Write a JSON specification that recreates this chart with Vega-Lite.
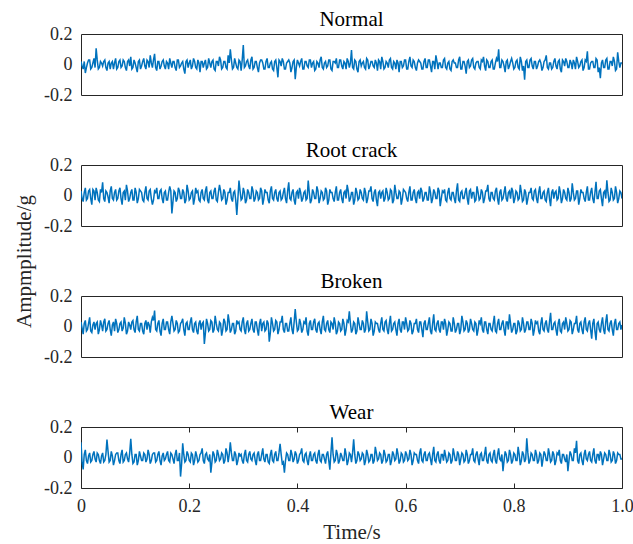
{
"$schema": "https://vega.github.io/schema/vega-lite/v6.json",
"background": "white",
"padding": {"left": 13, "top": 8, "right": 3, "bottom": 2},
"autosize": {"type": "pad"},
"bounds": "flush",
"spacing": 70,
"config": {
  "font": "Times New Roman, Liberation Serif, DejaVu Serif, serif",
  "view": {"stroke": "#262626", "strokeWidth": 1},
  "title": {"font": "Times New Roman, Liberation Serif, DejaVu Serif, serif", "fontSize": 21, "fontWeight": "normal", "color": "#000000", "offset": -5, "anchor": "middle"},
  "axis": {"labelFont": "Times New Roman, Liberation Serif, DejaVu Serif, serif", "titleFont": "Times New Roman, Liberation Serif, DejaVu Serif, serif", "labelFontSize": 18, "titleFontSize": 21, "titleFontWeight": "normal", "labelColor": "#262626", "titleColor": "#262626", "grid": false, "domain": false, "labelFlush": false, "labelOverlap": false, "tickColor": "#262626"},
  "line": {"color": "#0072BD", "strokeWidth": 1.5}
},
"data": {"values": [
{"t":0,"a":0.02,"b":0.03,"c":0.03,"d":0.1},{"t":2,"a":-0.01,"b":-0.02,"c":-0.01,"d":-0.03},
{"t":4,"a":-0.03,"b":-0.04,"c":-0.05,"d":-0.078},{"t":6,"a":0.02,"b":0.02,"c":0.02,"d":0.02},
{"t":8,"a":-0.056,"b":0.05,"c":0.04,"d":0.05},{"t":10,"a":-0.02,"b":-0.03,"c":-0.03,"d":-0.02},
{"t":12,"a":0.01,"b":-0.02,"c":-0.02,"d":-0.04},{"t":14,"a":0.03,"b":0.03,"c":0.02,"d":0.01},
{"t":16,"a":0.03,"b":0.04,"c":0.06,"d":0.03},{"t":18,"a":-0.03,"b":-0.02,"c":-0.03,"d":-0.03},
{"t":20,"a":-0.02,"b":-0.06,"c":-0.04,"d":-0.02},{"t":22,"a":0.01,"b":0.04,"c":0.01,"d":0.02},
{"t":24,"a":0.04,"b":0.03,"c":0.03,"d":0.04},{"t":26,"a":-0.02,"b":-0.03,"c":-0.02,"d":-0.01},
{"t":28,"a":0.106,"b":0.05,"c":0.02,"d":-0.03},{"t":30,"a":0.03,"b":0.02,"c":0.03,"d":0.03},
{"t":32,"a":-0.03,"b":-0.03,"c":-0.05,"d":0.02},{"t":34,"a":-0.02,"b":-0.04,"c":-0.02,"d":-0.02},
{"t":36,"a":0.02,"b":0.04,"c":0.04,"d":-0.04},{"t":38,"a":0.01,"b":0.02,"c":0.01,"d":0.01},
{"t":40,"a":-0.01,"b":0.087,"c":-0.03,"d":0.03},{"t":42,"a":0.02,"b":-0.02,"c":0.03,"d":-0.03},
{"t":44,"a":0.03,"b":-0.04,"c":0.05,"d":-0.02},{"t":46,"a":-0.02,"b":0.03,"c":-0.03,"d":0.02},
{"t":48,"a":-0.04,"b":0.02,"c":-0.02,"d":0.117},{"t":50,"a":0.01,"b":-0.01,"c":0.02,"d":0.04},
{"t":52,"a":0.02,"b":-0.05,"c":0.04,"d":-0.03},{"t":54,"a":-0.03,"b":0.03,"c":-0.02,"d":-0.02},
{"t":56,"a":0.01,"b":0.06,"c":-0.06,"d":0.04},{"t":58,"a":0.02,"b":-0.02,"c":0.01,"d":0.01},
{"t":60,"a":-0.03,"b":-0.03,"c":0.03,"d":-0.05},{"t":62,"a":0.01,"b":0.02,"c":-0.03,"d":-0.02},
{"t":64,"a":0.04,"b":0.04,"c":0.05,"d":0.02},{"t":66,"a":-0.03,"b":-0.03,"c":0.02,"d":0.03},
{"t":68,"a":-0.02,"b":-0.02,"c":-0.04,"d":0.03},{"t":70,"a":0.02,"b":0.03,"c":-0.02,"d":-0.02},
{"t":72,"a":0.03,"b":0.05,"c":0.02,"d":-0.04},{"t":74,"a":-0.02,"b":-0.02,"c":0.03,"d":0.02},
{"t":76,"a":-0.01,"b":-0.06,"c":-0.03,"d":0.05},{"t":78,"a":0.03,"b":0.02,"c":-0.01,"d":-0.03},
{"t":80,"a":0.02,"b":0.03,"c":0.06,"d":-0.02},{"t":82,"a":-0.02,"b":-0.03,"c":0.02,"d":0.02},
{"t":84,"a":-0.04,"b":0.07,"c":-0.05,"d":0.03},{"t":86,"a":0.02,"b":0.03,"c":-0.03,"d":-0.01},
{"t":88,"a":0.03,"b":-0.04,"c":0.03,"d":-0.03},{"t":90,"a":-0.01,"b":-0.02,"c":0.01,"d":0.03},
{"t":92,"a":0.05,"b":0.02,"c":-0.02,"d":0.123},{"t":94,"a":-0.03,"b":0.04,"c":0.03,"d":0.02},
{"t":96,"a":-0.02,"b":-0.03,"c":0.04,"d":-0.04},{"t":98,"a":0.03,"b":-0.03,"c":-0.02,"d":-0.03},
{"t":100,"a":0.01,"b":0.05,"c":-0.04,"d":0.02},{"t":102,"a":-0.02,"b":0.02,"c":0.03,"d":0.02},
{"t":104,"a":-0.05,"b":-0.05,"c":0.07,"d":-0.05},{"t":106,"a":0.02,"b":-0.02,"c":-0.02,"d":-0.02},
{"t":108,"a":0.03,"b":0.04,"c":-0.03,"d":0.04},{"t":110,"a":-0.03,"b":0.03,"c":0.02,"d":0.01},
{"t":112,"a":-0.01,"b":0.02,"c":0.02,"d":-0.02},{"t":114,"a":0.02,"b":-0.03,"c":-0.03,"d":-0.02},
{"t":116,"a":0.04,"b":-0.04,"c":-0.05,"d":0.03},{"t":118,"a":-0.01,"b":0.02,"c":0.02,"d":0.02},
{"t":120,"a":-0.03,"b":0.06,"c":0.04,"d":-0.03},{"t":122,"a":0.03,"b":-0.02,"c":-0.02,"d":-0.01},
{"t":124,"a":0.02,"b":-0.03,"c":0.03,"d":0.05},{"t":126,"a":-0.02,"b":0.03,"c":0.01,"d":0.02},
{"t":128,"a":0.06,"b":0.04,"c":-0.04,"d":-0.04},{"t":130,"a":0.01,"b":-0.02,"c":0.03,"d":-0.02},
{"t":132,"a":-0.02,"b":-0.06,"c":0.06,"d":0.02},{"t":134,"a":0.03,"b":-0.03,"c":0.04,"d":0.03},
{"t":136,"a":0.07,"b":0.03,"c":0.105,"d":0.03},{"t":138,"a":-0.02,"b":0.02,"c":-0.02,"d":-0.03},
{"t":140,"a":-0.04,"b":0.05,"c":-0.03,"d":-0.02},{"t":142,"a":0.02,"b":-0.02,"c":0.02,"d":0.02},
{"t":144,"a":0.02,"b":-0.02,"c":0.04,"d":0.04},{"t":146,"a":-0.03,"b":0.03,"c":-0.03,"d":-0.02},
{"t":148,"a":-0.01,"b":0.04,"c":-0.06,"d":-0.05},{"t":150,"a":0.02,"b":-0.02,"c":0.02,"d":0.01},
{"t":152,"a":0.03,"b":-0.05,"c":0.05,"d":0.03},{"t":154,"a":-0.01,"b":0.02,"c":-0.02,"d":-0.02},
{"t":156,"a":-0.03,"b":0.03,"c":-0.02,"d":-0.01},{"t":158,"a":0.02,"b":-0.03,"c":0.03,"d":0.02},
{"t":160,"a":0.01,"b":-0.03,"c":0.03,"d":0.04},{"t":162,"a":-0.03,"b":0.02,"c":-0.02,"d":-0.02},
{"t":164,"a":0.04,"b":0.06,"c":-0.05,"d":-0.03},{"t":166,"a":0.01,"b":0.03,"c":0.03,"d":0.03},
{"t":168,"a":-0.02,"b":-0.118,"c":0.07,"d":0.02},{"t":170,"a":0.02,"b":-0.04,"c":0.02,"d":-0.01},
{"t":172,"a":0.02,"b":0.03,"c":-0.03,"d":-0.04},{"t":174,"a":-0.02,"b":0.02,"c":-0.02,"d":0.02},
{"t":176,"a":-0.04,"b":-0.04,"c":0.04,"d":0.05},{"t":178,"a":0.03,"b":-0.02,"c":0.02,"d":-0.02},
{"t":180,"a":0.03,"b":0.05,"c":-0.04,"d":-0.02},{"t":182,"a":-0.02,"b":0.03,"c":-0.03,"d":0.03},
{"t":184,"a":-0.01,"b":-0.02,"c":0.02,"d":-0.125},{"t":186,"a":0.01,"b":-0.02,"c":0.03,"d":-0.04},
{"t":188,"a":0.02,"b":0.04,"c":0.05,"d":0.093},{"t":190,"a":-0.03,"b":0.02,"c":-0.02,"d":0.02},
{"t":192,"a":-0.06,"b":-0.05,"c":-0.06,"d":-0.03},{"t":194,"a":0.02,"b":-0.03,"c":0.02,"d":-0.02},
{"t":196,"a":0.03,"b":0.07,"c":0.03,"d":0.04},{"t":198,"a":-0.02,"b":0.03,"c":-0.02,"d":0.02},
{"t":200,"a":0.01,"b":-0.03,"c":-0.02,"d":-0.02},{"t":202,"a":0.03,"b":-0.02,"c":0.03,"d":-0.03},
{"t":204,"a":-0.03,"b":0.02,"c":0.06,"d":0.03},{"t":206,"a":-0.01,"b":0.03,"c":-0.02,"d":0.02},
{"t":208,"a":0.04,"b":-0.06,"c":-0.04,"d":-0.05},{"t":210,"a":0.02,"b":-0.02,"c":0.02,"d":-0.02},
{"t":212,"a":-0.02,"b":0.05,"c":0.03,"d":0.04},{"t":214,"a":-0.03,"b":0.02,"c":-0.03,"d":0.01},
{"t":216,"a":0.03,"b":0.03,"c":-0.05,"d":-0.03},{"t":218,"a":0.01,"b":-0.03,"c":0.02,"d":-0.02},
{"t":220,"a":-0.05,"b":-0.04,"c":0.04,"d":0.02},{"t":222,"a":0.02,"b":0.02,"c":-0.02,"d":0.03},
{"t":224,"a":0.02,"b":0.04,"c":0.02,"d":0.06},{"t":226,"a":-0.02,"b":-0.02,"c":0.03,"d":-0.02},
{"t":228,"a":0.01,"b":-0.03,"c":-0.115,"d":-0.04},{"t":230,"a":0.03,"b":0.03,"c":-0.04,"d":0.02},
{"t":232,"a":-0.03,"b":0.06,"c":0.05,"d":0.03},{"t":234,"a":-0.02,"b":-0.03,"c":0.02,"d":-0.01},
{"t":236,"a":0.04,"b":-0.05,"c":-0.03,"d":-0.02},{"t":238,"a":0.01,"b":0.02,"c":-0.02,"d":0.02},
{"t":240,"a":-0.02,"b":0.03,"c":0.04,"d":-0.1},{"t":242,"a":0.02,"b":-0.02,"c":0.03,"d":-0.03},
{"t":244,"a":0.03,"b":-0.02,"c":-0.04,"d":0.04},{"t":246,"a":-0.03,"b":0.03,"c":-0.02,"d":0.02},
{"t":248,"a":-0.04,"b":0.05,"c":0.07,"d":-0.03},{"t":250,"a":0.02,"b":-0.03,"c":0.02,"d":-0.02},
{"t":252,"a":0.02,"b":-0.04,"c":-0.02,"d":0.05},{"t":254,"a":-0.01,"b":0.02,"c":-0.03,"d":0.02},
{"t":256,"a":0.05,"b":0.07,"c":0.03,"d":-0.02},{"t":258,"a":0.03,"b":0.03,"c":0.02,"d":-0.01},
{"t":260,"a":-0.03,"b":-0.03,"c":-0.06,"d":0.03},{"t":262,"a":-0.02,"b":-0.02,"c":-0.02,"d":0.02},
{"t":264,"a":0.02,"b":0.04,"c":0.05,"d":-0.04},{"t":266,"a":0.02,"b":0.02,"c":0.03,"d":-0.02},
{"t":268,"a":-0.02,"b":-0.06,"c":-0.03,"d":0.06},{"t":270,"a":-0.03,"b":-0.03,"c":-0.02,"d":0.03},
{"t":272,"a":0.06,"b":0.02,"c":0.08,"d":-0.03},{"t":274,"a":0.01,"b":0.02,"c":0.03,"d":0.02},
{"t":276,"a":0.1,"b":0.05,"c":-0.04,"d":0.1},{"t":278,"a":0.03,"b":-0.02,"c":-0.02,"d":0.03},
{"t":280,"a":-0.03,"b":-0.04,"c":0.02,"d":-0.02},{"t":282,"a":-0.02,"b":0.02,"c":0.02,"d":-0.02},
{"t":284,"a":0.04,"b":0.03,"c":-0.05,"d":0.04},{"t":286,"a":0.01,"b":-0.03,"c":-0.03,"d":0.02},
{"t":288,"a":-0.02,"b":-0.127,"c":0.04,"d":-0.05},{"t":290,"a":-0.03,"b":-0.02,"c":0.02,"d":-0.02},
{"t":292,"a":0.03,"b":0.098,"c":0.03,"d":0.03},{"t":294,"a":0.02,"b":0.03,"c":-0.02,"d":0.01},
{"t":296,"a":-0.04,"b":-0.03,"c":-0.03,"d":0.02},{"t":298,"a":0.03,"b":-0.02,"c":0.03,"d":-0.02},
{"t":300,"a":0.128,"b":0.05,"c":0.06,"d":-0.04},{"t":302,"a":-0.02,"b":0.02,"c":-0.02,"d":0.02},
{"t":304,"a":-0.01,"b":-0.05,"c":-0.05,"d":0.05},{"t":306,"a":0.02,"b":-0.03,"c":0.02,"d":-0.02},
{"t":308,"a":0.03,"b":0.04,"c":0.04,"d":-0.03},{"t":310,"a":-0.01,"b":0.02,"c":-0.03,"d":0.02},
{"t":312,"a":-0.03,"b":-0.02,"c":-0.02,"d":0.04},{"t":314,"a":0.03,"b":-0.02,"c":0.02,"d":-0.01},
{"t":316,"a":0.05,"b":0.06,"c":0.05,"d":-0.02},{"t":318,"a":-0.03,"b":0.03,"c":-0.02,"d":0.02},
{"t":320,"a":-0.02,"b":-0.04,"c":-0.04,"d":0.03},{"t":322,"a":0.02,"b":-0.02,"c":0.03,"d":-0.02},
{"t":324,"a":0.02,"b":0.03,"c":0.03,"d":-0.05},{"t":326,"a":-0.02,"b":0.02,"c":-0.02,"d":0.02},
{"t":328,"a":-0.05,"b":-0.03,"c":-0.06,"d":0.04},{"t":330,"a":0.01,"b":-0.02,"c":0.02,"d":-0.02},
{"t":332,"a":0.03,"b":0.05,"c":0.05,"d":-0.02},{"t":334,"a":0.03,"b":0.03,"c":-0.03,"d":0.02},
{"t":336,"a":0.01,"b":-0.06,"c":0.02,"d":0.06},{"t":338,"a":-0.03,"b":-0.02,"c":0.03,"d":-0.01},
{"t":340,"a":-0.03,"b":0.04,"c":-0.03,"d":-0.03},{"t":342,"a":0.02,"b":0.02,"c":-0.02,"d":0.02},
{"t":344,"a":0.04,"b":0.02,"c":0.04,"d":0.02},{"t":346,"a":-0.02,"b":-0.03,"c":0.02,"d":-0.03},
{"t":348,"a":-0.02,"b":-0.05,"c":-0.1,"d":-0.04},{"t":350,"a":0.01,"b":0.03,"c":-0.04,"d":0.02},
{"t":352,"a":0.02,"b":0.06,"c":0.06,"d":0.05},{"t":354,"a":-0.03,"b":-0.02,"c":0.02,"d":-0.02},
{"t":356,"a":-0.04,"b":-0.03,"c":-0.03,"d":-0.03},{"t":358,"a":0.02,"b":0.02,"c":-0.02,"d":0.02},
{"t":360,"a":0.03,"b":0.04,"c":0.04,"d":0.04},{"t":362,"a":-0.02,"b":-0.02,"c":0.03,"d":-0.02},
{"t":364,"a":-0.084,"b":-0.04,"c":-0.05,"d":-0.02},{"t":366,"a":0.03,"b":0.02,"c":-0.02,"d":0.03},
{"t":368,"a":0.02,"b":0.03,"c":0.03,"d":0.09},{"t":370,"a":-0.01,"b":-0.03,"c":0.03,"d":0.02},
{"t":372,"a":0.04,"b":-0.02,"c":0.07,"d":-0.04},{"t":374,"a":0.02,"b":0.02,"c":-0.02,"d":-0.03},
{"t":376,"a":-0.03,"b":0.05,"c":-0.04,"d":-0.1},{"t":378,"a":-0.03,"b":-0.02,"c":0.02,"d":-0.02},
{"t":380,"a":0.01,"b":-0.05,"c":0.02,"d":0.03},{"t":382,"a":0.02,"b":0.03,"c":-0.03,"d":0.02},
{"t":384,"a":0.03,"b":0.087,"c":-0.03,"d":-0.02},{"t":386,"a":0.01,"b":-0.02,"c":0.02,"d":-0.02},
{"t":388,"a":-0.05,"b":-0.03,"c":0.06,"d":0.05},{"t":390,"a":-0.02,"b":0.02,"c":-0.02,"d":0.02},
{"t":392,"a":0.02,"b":0.04,"c":-0.05,"d":-0.03},{"t":394,"a":0.03,"b":-0.03,"c":0.03,"d":-0.01},
{"t":396,"a":-0.097,"b":-0.06,"c":0.114,"d":0.04},{"t":398,"a":-0.02,"b":0.02,"c":0.03,"d":0.02},
{"t":400,"a":0.03,"b":0.03,"c":-0.03,"d":-0.04},{"t":402,"a":0.01,"b":-0.02,"c":-0.02,"d":-0.02},
{"t":404,"a":-0.01,"b":0.05,"c":0.05,"d":0.02},{"t":406,"a":0.02,"b":0.02,"c":0.02,"d":0.03},
{"t":408,"a":0.04,"b":-0.04,"c":-0.04,"d":0.06},{"t":410,"a":-0.03,"b":-0.02,"c":-0.02,"d":-0.02},
{"t":412,"a":-0.03,"b":0.02,"c":0.03,"d":-0.03},{"t":414,"a":0.02,"b":0.03,"c":0.02,"d":0.02},
{"t":416,"a":0.02,"b":-0.03,"c":0.06,"d":0.03},{"t":418,"a":-0.01,"b":-0.02,"c":-0.03,"d":-0.02},
{"t":420,"a":-0.02,"b":0.098,"c":-0.06,"d":-0.05},{"t":422,"a":0.03,"b":0.02,"c":0.02,"d":0.01},
{"t":424,"a":0.03,"b":-0.05,"c":0.04,"d":0.04},{"t":426,"a":-0.02,"b":-0.03,"c":-0.02,"d":-0.02},
{"t":428,"a":0.01,"b":0.04,"c":-0.02,"d":-0.02},{"t":430,"a":0.02,"b":0.02,"c":0.03,"d":0.02},
{"t":432,"a":-0.04,"b":-0.02,"c":0.05,"d":0.03},{"t":434,"a":-0.03,"b":-0.02,"c":-0.02,"d":-0.02},
{"t":436,"a":0.02,"b":0.06,"c":-0.04,"d":-0.04},{"t":438,"a":0.01,"b":0.03,"c":0.02,"d":0.02},
{"t":440,"a":-0.02,"b":-0.05,"c":0.03,"d":0.05},{"t":442,"a":0.03,"b":-0.02,"c":-0.02,"d":-0.02},
{"t":444,"a":0.05,"b":0.03,"c":-0.05,"d":-0.03},{"t":446,"a":-0.02,"b":0.02,"c":0.03,"d":0.02},
{"t":448,"a":-0.03,"b":-0.03,"c":0.07,"d":0.02},{"t":450,"a":0.01,"b":-0.02,"c":-0.02,"d":-0.01},
{"t":452,"a":0.02,"b":0.05,"c":-0.03,"d":-0.04},{"t":454,"a":-0.02,"b":0.03,"c":0.02,"d":0.02},
{"t":456,"a":-0.01,"b":-0.06,"c":0.04,"d":0.04},{"t":458,"a":0.03,"b":-0.03,"c":-0.02,"d":-0.02},
{"t":460,"a":0.03,"b":0.04,"c":-0.04,"d":-0.08},{"t":462,"a":-0.03,"b":0.02,"c":0.03,"d":0.03},
{"t":464,"a":-0.04,"b":0.02,"c":0.02,"d":0.133},{"t":466,"a":0.02,"b":-0.02,"c":-0.02,"d":0.02},
{"t":468,"a":0.02,"b":-0.04,"c":0.06,"d":-0.03},{"t":470,"a":0.01,"b":0.02,"c":0.02,"d":-0.02},
{"t":472,"a":0.04,"b":0.06,"c":-0.05,"d":0.05},{"t":474,"a":-0.02,"b":-0.03,"c":-0.03,"d":0.02},
{"t":476,"a":-0.02,"b":-0.03,"c":0.03,"d":-0.04},{"t":478,"a":0.03,"b":0.02,"c":0.02,"d":-0.02},
{"t":480,"a":0.03,"b":0.04,"c":-0.03,"d":0.03},{"t":482,"a":-0.01,"b":-0.02,"c":-0.02,"d":0.01},
{"t":484,"a":-0.03,"b":-0.05,"c":0.05,"d":-0.02},{"t":486,"a":0.02,"b":0.02,"c":0.02,"d":-0.02},
{"t":488,"a":0.01,"b":0.03,"c":-0.06,"d":0.06},{"t":490,"a":-0.03,"b":-0.02,"c":-0.02,"d":0.02},
{"t":492,"a":0.04,"b":0.07,"c":0.04,"d":-0.05},{"t":494,"a":0.02,"b":0.03,"c":0.03,"d":-0.02},
{"t":496,"a":-0.02,"b":-0.04,"c":0.1,"d":0.03},{"t":498,"a":0.01,"b":-0.02,"c":0.02,"d":0.02},
{"t":500,"a":0.095,"b":0.02,"c":-0.04,"d":-0.03},{"t":502,"a":-0.02,"b":0.02,"c":-0.02,"d":0.03},
{"t":504,"a":-0.03,"b":-0.06,"c":0.03,"d":0.12},{"t":506,"a":0.03,"b":-0.03,"c":0.02,"d":0.02},
{"t":508,"a":0.02,"b":0.05,"c":-0.05,"d":-0.04},{"t":510,"a":-0.03,"b":0.02,"c":-0.03,"d":-0.02},
{"t":512,"a":-0.05,"b":-0.03,"c":0.06,"d":0.04},{"t":514,"a":0.02,"b":-0.02,"c":0.02,"d":0.02},
{"t":516,"a":0.03,"b":0.04,"c":-0.02,"d":-0.02},{"t":518,"a":-0.01,"b":0.02,"c":-0.02,"d":-0.01},
{"t":520,"a":0.01,"b":-0.02,"c":0.04,"d":0.03},{"t":522,"a":0.02,"b":-0.03,"c":0.02,"d":0.02},
{"t":524,"a":-0.02,"b":0.05,"c":-0.04,"d":-0.05},{"t":526,"a":-0.03,"b":0.02,"c":-0.02,"d":-0.02},
{"t":528,"a":0.04,"b":-0.05,"c":0.1,"d":0.05},{"t":530,"a":0.03,"b":-0.02,"c":0.03,"d":0.02},
{"t":532,"a":-0.03,"b":0.03,"c":-0.03,"d":-0.03},{"t":534,"a":-0.01,"b":0.03,"c":-0.02,"d":-0.02},
{"t":536,"a":0.02,"b":0.06,"c":0.05,"d":0.02},{"t":538,"a":0.02,"b":-0.02,"c":0.02,"d":0.02},
{"t":540,"a":-0.01,"b":-0.04,"c":-0.06,"d":-0.04},{"t":542,"a":-0.02,"b":0.02,"c":-0.03,"d":-0.02},
{"t":544,"a":0.03,"b":0.04,"c":0.03,"d":0.07},{"t":546,"a":0.01,"b":-0.03,"c":0.02,"d":0.03},
{"t":548,"a":-0.04,"b":-0.07,"c":0.02,"d":-0.02},{"t":550,"a":0.03,"b":0.02,"c":-0.02,"d":-0.01},
{"t":552,"a":0.02,"b":0.03,"c":-0.04,"d":0.03},{"t":554,"a":-0.03,"b":-0.02,"c":0.02,"d":0.02},
{"t":556,"a":0.05,"b":0.02,"c":0.06,"d":-0.04},{"t":558,"a":0.02,"b":0.03,"c":-0.02,"d":-0.02},
{"t":560,"a":-0.03,"b":-0.04,"c":-0.03,"d":0.05},{"t":562,"a":-0.02,"b":-0.02,"c":0.03,"d":0.02},
{"t":564,"a":0.02,"b":0.05,"c":0.04,"d":-0.03},{"t":566,"a":0.01,"b":0.02,"c":-0.02,"d":-0.02},
{"t":568,"a":-0.02,"b":-0.03,"c":-0.05,"d":0.02},{"t":570,"a":0.03,"b":-0.02,"c":0.02,"d":0.02},
{"t":572,"a":0.04,"b":0.04,"c":0.07,"d":-0.05},{"t":574,"a":-0.02,"b":0.03,"c":-0.03,"d":-0.02},
{"t":576,"a":-0.03,"b":-0.05,"c":-0.02,"d":0.04},{"t":578,"a":0.02,"b":-0.03,"c":0.02,"d":0.02},
{"t":580,"a":0.01,"b":0.07,"c":0.03,"d":-0.02},{"t":582,"a":-0.03,"b":0.02,"c":-0.02,"d":-0.01},
{"t":584,"a":0.03,"b":-0.02,"c":-0.06,"d":0.06},{"t":586,"a":0.01,"b":-0.02,"c":0.02,"d":0.02},
{"t":588,"a":-0.05,"b":0.03,"c":0.05,"d":-0.04},{"t":590,"a":0.02,"b":0.02,"c":-0.02,"d":-0.02},
{"t":592,"a":0.02,"b":-0.06,"c":-0.04,"d":0.03},{"t":594,"a":-0.02,"b":-0.02,"c":0.03,"d":0.02},
{"t":596,"a":-0.01,"b":0.04,"c":0.03,"d":-0.03},{"t":598,"a":0.03,"b":0.03,"c":-0.02,"d":-0.02},
{"t":600,"a":0.03,"b":0.02,"c":0.06,"d":0.04},{"t":602,"a":-0.03,"b":-0.02,"c":0.02,"d":0.02},
{"t":604,"a":-0.03,"b":-0.04,"c":-0.03,"d":-0.02},{"t":606,"a":0.02,"b":0.02,"c":-0.02,"d":-0.01},
{"t":608,"a":0.05,"b":0.06,"c":0.04,"d":0.05},{"t":610,"a":-0.01,"b":-0.03,"c":0.02,"d":0.02},
{"t":612,"a":-0.02,"b":-0.03,"c":-0.05,"d":-0.05},{"t":614,"a":0.03,"b":0.02,"c":-0.03,"d":-0.02},
{"t":616,"a":0.02,"b":0.04,"c":0.02,"d":0.03},{"t":618,"a":-0.02,"b":-0.02,"c":0.02,"d":0.02},
{"t":620,"a":-0.04,"b":-0.05,"c":0.05,"d":0.02},{"t":622,"a":0.01,"b":0.02,"c":-0.02,"d":-0.02},
{"t":624,"a":0.03,"b":0.03,"c":-0.04,"d":-0.04},{"t":626,"a":0.02,"b":-0.02,"c":0.03,"d":0.03},
{"t":628,"a":0.01,"b":0.05,"c":0.03,"d":0.06},{"t":630,"a":-0.03,"b":0.03,"c":-0.02,"d":-0.02},
{"t":632,"a":-0.03,"b":-0.04,"c":-0.07,"d":-0.03},{"t":634,"a":0.02,"b":-0.02,"c":0.02,"d":0.02},
{"t":636,"a":0.04,"b":0.02,"c":0.04,"d":0.04},{"t":638,"a":-0.02,"b":0.02,"c":-0.02,"d":-0.02},
{"t":640,"a":-0.02,"b":-0.03,"c":-0.02,"d":-0.02},{"t":642,"a":0.03,"b":-0.03,"c":0.02,"d":0.02},
{"t":644,"a":0.03,"b":0.06,"c":0.06,"d":0.03},{"t":646,"a":-0.01,"b":0.02,"c":-0.03,"d":-0.01},
{"t":648,"a":-0.05,"b":-0.05,"c":-0.05,"d":-0.05},{"t":650,"a":0.02,"b":-0.02,"c":0.02,"d":0.02},
{"t":652,"a":0.02,"b":0.04,"c":0.08,"d":0.07},{"t":654,"a":-0.03,"b":0.02,"c":-0.02,"d":-0.02},
{"t":656,"a":0.06,"b":-0.02,"c":-0.03,"d":-0.03},{"t":658,"a":0.02,"b":-0.02,"c":0.02,"d":0.02},
{"t":660,"a":-0.03,"b":0.05,"c":0.04,"d":0.04},{"t":662,"a":0.01,"b":0.03,"c":-0.02,"d":-0.02},
{"t":664,"a":0.01,"b":-0.07,"c":-0.04,"d":-0.04},{"t":666,"a":-0.02,"b":-0.02,"c":0.03,"d":0.02},
{"t":668,"a":-0.02,"b":0.03,"c":0.03,"d":0.02},{"t":670,"a":0.03,"b":0.02,"c":-0.02,"d":-0.02},
{"t":672,"a":0.04,"b":0.04,"c":0.05,"d":0.05},{"t":674,"a":-0.02,"b":-0.03,"c":0.02,"d":0.01},
{"t":676,"a":-0.03,"b":-0.04,"c":-0.06,"d":-0.03},{"t":678,"a":0.01,"b":0.02,"c":-0.02,"d":-0.02},
{"t":680,"a":0.02,"b":0.05,"c":0.03,"d":0.03},{"t":682,"a":-0.03,"b":-0.02,"c":0.02,"d":0.02},
{"t":684,"a":-0.04,"b":-0.03,"c":-0.03,"d":-0.04},{"t":686,"a":0.02,"b":0.02,"c":-0.03,"d":-0.02},
{"t":688,"a":0.03,"b":0.02,"c":0.06,"d":0.06},{"t":690,"a":0.01,"b":-0.02,"c":0.02,"d":0.02},
{"t":692,"a":0.01,"b":-0.05,"c":-0.04,"d":-0.02},{"t":694,"a":-0.02,"b":0.03,"c":-0.02,"d":-0.02},
{"t":696,"a":-0.02,"b":0.08,"c":0.02,"d":0.04},{"t":698,"a":0.03,"b":-0.03,"c":0.02,"d":0.02},
{"t":700,"a":0.05,"b":-0.04,"c":-0.05,"d":-0.05},{"t":702,"a":-0.03,"b":0.02,"c":-0.02,"d":-0.01},
{"t":704,"a":-0.03,"b":0.03,"c":0.07,"d":0.03},{"t":706,"a":0.02,"b":-0.02,"c":0.03,"d":0.02},
{"t":708,"a":0.02,"b":-0.02,"c":-0.03,"d":-0.03},{"t":710,"a":-0.01,"b":0.02,"c":-0.02,"d":-0.02},
{"t":712,"a":-0.06,"b":0.05,"c":0.04,"d":0.05},{"t":714,"a":0.02,"b":-0.02,"c":0.02,"d":0.02},
{"t":716,"a":0.03,"b":-0.06,"c":-0.04,"d":-0.04},{"t":718,"a":-0.02,"b":0.03,"c":-0.02,"d":-0.02},
{"t":720,"a":-0.01,"b":0.04,"c":0.05,"d":0.02},{"t":722,"a":0.03,"b":-0.02,"c":0.02,"d":0.02},
{"t":724,"a":0.04,"b":0.02,"c":-0.02,"d":0.06},{"t":726,"a":-0.02,"b":0.02,"c":-0.03,"d":-0.02},
{"t":728,"a":-0.03,"b":-0.04,"c":0.03,"d":-0.03},{"t":730,"a":0.01,"b":-0.03,"c":0.02,"d":0.02},
{"t":732,"a":0.02,"b":0.06,"c":-0.06,"d":0.04},{"t":734,"a":0.02,"b":0.02,"c":-0.02,"d":-0.01},
{"t":736,"a":-0.02,"b":-0.03,"c":0.04,"d":-0.05},{"t":738,"a":-0.03,"b":-0.02,"c":0.02,"d":0.02},
{"t":740,"a":0.03,"b":0.04,"c":0.06,"d":0.03},{"t":742,"a":0.02,"b":0.02,"c":-0.02,"d":-0.02},
{"t":744,"a":0.05,"b":-0.05,"c":-0.04,"d":-0.02},{"t":746,"a":-0.01,"b":-0.02,"c":0.03,"d":0.02},
{"t":748,"a":-0.04,"b":0.03,"c":0.03,"d":0.07},{"t":750,"a":0.03,"b":0.03,"c":-0.02,"d":-0.02},
{"t":752,"a":0.02,"b":0.07,"c":-0.05,"d":-0.04},{"t":754,"a":-0.02,"b":-0.02,"c":0.02,"d":0.02},
{"t":756,"a":-0.02,"b":-0.04,"c":0.02,"d":0.03},{"t":758,"a":0.02,"b":0.02,"c":-0.02,"d":-0.02},
{"t":760,"a":0.03,"b":0.02,"c":-0.03,"d":-0.03},{"t":762,"a":-0.03,"b":-0.02,"c":0.02,"d":0.02},
{"t":764,"a":-0.03,"b":-0.03,"c":0.07,"d":0.05},{"t":766,"a":0.01,"b":0.03,"c":-0.03,"d":-0.02},
{"t":768,"a":0.04,"b":0.05,"c":-0.04,"d":-0.04},{"t":770,"a":0.02,"b":-0.02,"c":0.02,"d":0.02},
{"t":772,"a":0.1,"b":-0.06,"c":0.05,"d":0.06},{"t":774,"a":-0.02,"b":0.02,"c":-0.02,"d":-0.01},
{"t":776,"a":-0.02,"b":0.04,"c":-0.02,"d":-0.02},{"t":778,"a":0.03,"b":-0.03,"c":0.02,"d":0.02},
{"t":780,"a":0.02,"b":-0.02,"c":0.04,"d":-0.09},{"t":782,"a":-0.01,"b":0.02,"c":-0.02,"d":-0.02},
{"t":784,"a":-0.05,"b":0.06,"c":-0.06,"d":0.04},{"t":786,"a":0.02,"b":-0.02,"c":0.03,"d":0.02},
{"t":788,"a":0.03,"b":-0.04,"c":0.03,"d":-0.03},{"t":790,"a":-0.03,"b":0.02,"c":-0.02,"d":-0.02},
{"t":792,"a":-0.01,"b":0.03,"c":0.08,"d":0.05},{"t":794,"a":0.02,"b":-0.02,"c":0.02,"d":0.02},
{"t":796,"a":0.04,"b":0.05,"c":-0.04,"d":-0.04},{"t":798,"a":0.01,"b":0.03,"c":-0.02,"d":-0.02},
{"t":800,"a":-0.03,"b":-0.05,"c":0.02,"d":0.03},{"t":802,"a":-0.02,"b":-0.02,"c":0.02,"d":0.02},
{"t":804,"a":0.02,"b":0.03,"c":-0.05,"d":-0.02},{"t":806,"a":0.03,"b":0.02,"c":-0.03,"d":-0.02},
{"t":808,"a":-0.02,"b":-0.03,"c":0.04,"d":0.07},{"t":810,"a":-0.03,"b":-0.02,"c":0.02,"d":0.02},
{"t":812,"a":0.05,"b":0.07,"c":-0.03,"d":-0.05},{"t":814,"a":0.02,"b":0.02,"c":-0.02,"d":-0.02},
{"t":816,"a":-0.04,"b":-0.04,"c":0.06,"d":0.04},{"t":818,"a":-0.01,"b":-0.03,"c":0.02,"d":0.02},
{"t":820,"a":-0.1,"b":0.04,"c":-0.04,"d":-0.03},{"t":822,"a":0.02,"b":0.02,"c":-0.02,"d":-0.01},
{"t":824,"a":0.03,"b":-0.06,"c":0.03,"d":0.126},{"t":826,"a":-0.02,"b":-0.02,"c":0.03,"d":0.03},
{"t":828,"a":-0.02,"b":0.02,"c":-0.02,"d":-0.04},{"t":830,"a":0.03,"b":0.02,"c":-0.02,"d":-0.02},
{"t":832,"a":0.04,"b":0.05,"c":0.05,"d":0.03},{"t":834,"a":-0.01,"b":-0.02,"c":0.02,"d":0.02},
{"t":836,"a":-0.03,"b":-0.03,"c":-0.06,"d":-0.02},{"t":838,"a":0.02,"b":0.03,"c":-0.02,"d":-0.02},
{"t":840,"a":0.02,"b":0.04,"c":0.04,"d":0.05},{"t":842,"a":-0.03,"b":-0.02,"c":0.02,"d":0.02},
{"t":844,"a":-0.01,"b":-0.05,"c":0.03,"d":-0.04},{"t":846,"a":0.02,"b":0.02,"c":-0.03,"d":-0.02},
{"t":848,"a":0.03,"b":0.06,"c":-0.05,"d":0.03},{"t":850,"a":0.01,"b":-0.02,"c":0.02,"d":0.02},
{"t":852,"a":-0.04,"b":-0.02,"c":0.06,"d":-0.06},{"t":854,"a":-0.02,"b":0.02,"c":-0.02,"d":-0.01},
{"t":856,"a":0.02,"b":0.03,"c":-0.03,"d":0.04},{"t":858,"a":0.03,"b":-0.03,"c":0.02,"d":0.02},
{"t":860,"a":0.06,"b":-0.04,"c":0.04,"d":-0.02},{"t":862,"a":-0.02,"b":0.02,"c":-0.02,"d":-0.02},
{"t":864,"a":-0.03,"b":0.05,"c":-0.04,"d":0.06},{"t":866,"a":0.01,"b":-0.02,"c":0.03,"d":0.02},
{"t":868,"a":0.01,"b":-0.07,"c":0.09,"d":-0.03},{"t":870,"a":-0.03,"b":0.02,"c":-0.02,"d":-0.02},
{"t":872,"a":-0.02,"b":0.04,"c":-0.02,"d":0.04},{"t":874,"a":0.02,"b":-0.02,"c":0.02,"d":0.02},
{"t":876,"a":0.04,"b":0.02,"c":0.03,"d":-0.05},{"t":878,"a":-0.01,"b":0.03,"c":-0.02,"d":-0.02},
{"t":880,"a":-0.03,"b":-0.03,"c":-0.06,"d":0.03},{"t":882,"a":0.02,"b":-0.02,"c":0.02,"d":0.02},
{"t":884,"a":0.03,"b":0.06,"c":0.05,"d":0.05},{"t":886,"a":-0.03,"b":0.02,"c":-0.03,"d":-0.02},
{"t":888,"a":-0.05,"b":-0.05,"c":-0.04,"d":-0.04},{"t":890,"a":0.03,"b":-0.02,"c":0.02,"d":0.02},
{"t":892,"a":0.02,"b":0.04,"c":0.03,"d":0.02},{"t":894,"a":-0.01,"b":0.02,"c":-0.02,"d":-0.01},
{"t":896,"a":0.04,"b":-0.02,"c":0.06,"d":-0.03},{"t":898,"a":0.02,"b":-0.03,"c":0.02,"d":0.02},
{"t":900,"a":-0.02,"b":0.05,"c":-0.03,"d":-0.09},{"t":902,"a":-0.02,"b":0.02,"c":-0.02,"d":-0.02},
{"t":904,"a":0.03,"b":-0.04,"c":0.04,"d":0.04},{"t":906,"a":0.01,"b":-0.02,"c":0.03,"d":0.02},
{"t":908,"a":-0.03,"b":0.08,"c":-0.05,"d":-0.02},{"t":910,"a":0.03,"b":0.02,"c":-0.02,"d":-0.02},
{"t":912,"a":0.01,"b":-0.03,"c":0.02,"d":0.06},{"t":914,"a":-0.03,"b":-0.02,"c":0.02,"d":0.03},
{"t":916,"a":0.05,"b":0.03,"c":0.07,"d":0.11},{"t":918,"a":0.02,"b":0.03,"c":-0.02,"d":-0.02},
{"t":920,"a":-0.02,"b":-0.06,"c":-0.04,"d":-0.04},{"t":922,"a":-0.01,"b":-0.02,"c":0.02,"d":0.02},
{"t":924,"a":0.02,"b":0.04,"c":0.03,"d":0.03},{"t":926,"a":0.03,"b":0.02,"c":-0.02,"d":-0.02},
{"t":928,"a":-0.04,"b":0.02,"c":-0.05,"d":-0.05},{"t":930,"a":-0.02,"b":-0.02,"c":0.03,"d":0.02},
{"t":932,"a":0.03,"b":-0.04,"c":0.06,"d":0.05},{"t":934,"a":0.02,"b":0.02,"c":-0.02,"d":-0.01},
{"t":936,"a":0.086,"b":0.06,"c":-0.03,"d":-0.02},{"t":938,"a":-0.03,"b":-0.03,"c":0.02,"d":0.02},
{"t":940,"a":-0.03,"b":-0.03,"c":0.04,"d":0.04},{"t":942,"a":0.01,"b":0.02,"c":-0.02,"d":-0.02},
{"t":944,"a":0.02,"b":0.05,"c":-0.08,"d":-0.03},{"t":946,"a":0.02,"b":-0.02,"c":0.02,"d":0.02},
{"t":948,"a":-0.02,"b":-0.05,"c":0.05,"d":0.06},{"t":950,"a":-0.02,"b":0.02,"c":-0.03,"d":-0.02},
{"t":952,"a":0.04,"b":0.09,"c":-0.09,"d":-0.04},{"t":954,"a":0.03,"b":-0.02,"c":0.02,"d":0.02},
{"t":956,"a":-0.05,"b":-0.02,"c":0.03,"d":0.02},{"t":958,"a":-0.02,"b":0.03,"c":-0.02,"d":-0.02},
{"t":960,"a":-0.09,"b":0.04,"c":-0.04,"d":0.04},{"t":962,"a":0.01,"b":-0.02,"c":0.02,"d":0.02},
{"t":964,"a":0.03,"b":-0.07,"c":0.06,"d":-0.05},{"t":966,"a":-0.02,"b":0.02,"c":-0.02,"d":-0.01},
{"t":968,"a":-0.02,"b":0.03,"c":-0.05,"d":0.03},{"t":970,"a":0.03,"b":-0.02,"c":0.03,"d":0.02},
{"t":972,"a":0.04,"b":0.1,"c":0.08,"d":-0.02},{"t":974,"a":-0.03,"b":0.02,"c":-0.02,"d":-0.02},
{"t":976,"a":-0.03,"b":-0.04,"c":-0.03,"d":0.05},{"t":978,"a":0.02,"b":-0.03,"c":0.02,"d":0.02},
{"t":980,"a":0.02,"b":0.05,"c":0.04,"d":-0.03},{"t":982,"a":-0.01,"b":0.02,"c":-0.02,"d":-0.02},
{"t":984,"a":0.05,"b":-0.03,"c":-0.06,"d":0.04},{"t":986,"a":0.02,"b":-0.02,"c":0.02,"d":0.02},
{"t":988,"a":-0.04,"b":0.06,"c":0.05,"d":-0.04},{"t":990,"a":-0.03,"b":0.02,"c":-0.02,"d":-0.02},
{"t":992,"a":0.08,"b":-0.05,"c":-0.02,"d":0.03},{"t":994,"a":0.02,"b":-0.02,"c":0.02,"d":0.02},
{"t":996,"a":-0.02,"b":0.03,"c":0.03,"d":0.02},{"t":998,"a":0.01,"b":0.02,"c":-0.02,"d":-0.01},
{"t":1000,"a":0.01,"b":-0.02,"c":0.01,"d":-0.01}
]},
"vconcat": [
{
  "title": "Normal",
  "width": 541, "height": 61,
  "mark": {"type": "line", "clip": true},
  "encoding": {
    "x": {"field": "t", "type": "quantitative", "scale": {"domain": [0, 1000], "nice": false}, "axis": null},
    "y": {"field": "a", "type": "quantitative", "scale": {"domain": [-0.2, 0.2], "nice": false},
      "axis": {"values": [-0.2, 0, 0.2], "ticks": false, "tickSize": 0, "labelPadding": 9, "title": null,
        "labelExpr": "datum.value == 0 ? '0' : (datum.value < 0 ? '-' : '') + format(abs(datum.value), '.1f')"}}
  }
},
{
  "title": "Root crack",
  "width": 541, "height": 61,
  "mark": {"type": "line", "clip": true},
  "encoding": {
    "x": {"field": "t", "type": "quantitative", "scale": {"domain": [0, 1000], "nice": false}, "axis": null},
    "y": {"field": "b", "type": "quantitative", "scale": {"domain": [-0.2, 0.2], "nice": false},
      "axis": {"values": [-0.2, 0, 0.2], "ticks": false, "tickSize": 0, "labelPadding": 9,
        "title": "Ampmplitude/g", "titleY": 96, "titlePadding": 9,
        "labelExpr": "datum.value == 0 ? '0' : (datum.value < 0 ? '-' : '') + format(abs(datum.value), '.1f')"}}
  }
},
{
  "title": "Broken",
  "width": 541, "height": 61,
  "mark": {"type": "line", "clip": true},
  "encoding": {
    "x": {"field": "t", "type": "quantitative", "scale": {"domain": [0, 1000], "nice": false}, "axis": null},
    "y": {"field": "c", "type": "quantitative", "scale": {"domain": [-0.2, 0.2], "nice": false},
      "axis": {"values": [-0.2, 0, 0.2], "ticks": false, "tickSize": 0, "labelPadding": 9, "title": null,
        "labelExpr": "datum.value == 0 ? '0' : (datum.value < 0 ? '-' : '') + format(abs(datum.value), '.1f')"}}
  }
},
{
  "title": "Wear",
  "width": 541, "height": 61,
  "layer": [
    {
      "mark": {"type": "line", "clip": true},
      "encoding": {
        "x": {"field": "t", "type": "quantitative", "scale": {"domain": [0, 1000], "nice": false},
          "axis": {"values": [0, 200, 400, 600, 800, 1000], "ticks": true, "tickSize": -5, "labelPadding": 14,
            "title": "Time/s", "titlePadding": 6,
            "labelExpr": "datum.value == 0 ? '0' : format(datum.value / 1000, '.1f')"}},
        "y": {"field": "d", "type": "quantitative", "scale": {"domain": [-0.2, 0.2], "nice": false},
          "axis": {"values": [-0.2, 0, 0.2], "ticks": false, "tickSize": 0, "labelPadding": 9, "title": null,
            "labelExpr": "datum.value == 0 ? '0' : (datum.value < 0 ? '-' : '') + format(abs(datum.value), '.1f')"}}
      }
    },
    {
      "mark": {"type": "line", "opacity": 0},
      "encoding": {
        "x": {"field": "t", "type": "quantitative",
          "axis": {"orient": "top", "values": [0, 200, 400, 600, 800, 1000], "ticks": true, "tickSize": -5, "labels": false, "title": null}},
        "y": {"field": "d", "type": "quantitative",
          "axis": {"values": [-0.2, 0, 0.2], "ticks": false, "tickSize": 0, "labelPadding": 9, "title": null,
            "labelExpr": "datum.value == 0 ? '0' : (datum.value < 0 ? '-' : '') + format(abs(datum.value), '.1f')"}}
      }
    }
  ],
  "resolve": {"axis": {"x": "independent"}}
}
]
}
